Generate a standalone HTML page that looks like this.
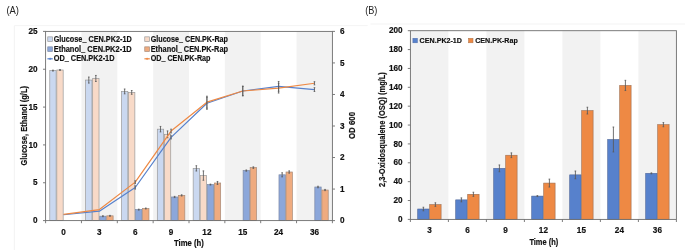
<!DOCTYPE html>
<html><head><meta charset="utf-8"><style>
html,body{margin:0;padding:0;background:#fff;}
body{width:685px;height:250px;overflow:hidden;}
svg{display:block;} text{-webkit-font-smoothing:antialiased;} text[font-weight=bold]{stroke:#111;stroke-width:0.18px;}
</style></head><body>
<svg style="will-change:transform" width="685" height="250" viewBox="0 0 685 250" font-family="Liberation Sans, sans-serif">
<path d="M14.4 250V25.6H367.6" stroke="#f0f0f0" stroke-width="0.8" fill="none"/>
<path d="M370.6 24H685" stroke="#f0f0f0" stroke-width="0.8" fill="none"/>
<rect x="81.45" y="31.40" width="35.85" height="189.20" fill="#f2f2f2"/>
<rect x="153.15" y="31.40" width="35.85" height="189.20" fill="#f2f2f2"/>
<rect x="224.85" y="31.40" width="35.85" height="189.20" fill="#f2f2f2"/>
<rect x="296.55" y="31.40" width="35.85" height="189.20" fill="#f2f2f2"/>
<rect x="49.77" y="70.60" width="6.35" height="150.00" fill="#cad8f0" stroke="#9a9a9a" stroke-width="0.7"/>
<rect x="56.82" y="70.00" width="6.35" height="150.60" fill="#f8dac8" stroke="#9a9a9a" stroke-width="0.7"/>
<rect x="85.62" y="80.06" width="6.35" height="140.54" fill="#cad8f0" stroke="#9a9a9a" stroke-width="0.7"/>
<rect x="92.67" y="78.47" width="6.35" height="142.13" fill="#f8dac8" stroke="#9a9a9a" stroke-width="0.7"/>
<rect x="99.72" y="216.21" width="6.35" height="4.39" fill="#8ca7da" stroke="#7d8aa6" stroke-width="0.7"/>
<rect x="106.77" y="215.83" width="6.35" height="4.77" fill="#efab7f" stroke="#a88a78" stroke-width="0.7"/>
<rect x="121.47" y="91.41" width="6.35" height="129.19" fill="#cad8f0" stroke="#9a9a9a" stroke-width="0.7"/>
<rect x="128.52" y="92.40" width="6.35" height="128.20" fill="#f8dac8" stroke="#9a9a9a" stroke-width="0.7"/>
<rect x="135.57" y="209.63" width="6.35" height="10.97" fill="#8ca7da" stroke="#7d8aa6" stroke-width="0.7"/>
<rect x="142.62" y="208.49" width="6.35" height="12.11" fill="#efab7f" stroke="#a88a78" stroke-width="0.7"/>
<rect x="157.32" y="129.18" width="6.35" height="91.42" fill="#cad8f0" stroke="#9a9a9a" stroke-width="0.7"/>
<rect x="164.37" y="134.32" width="6.35" height="86.28" fill="#f8dac8" stroke="#9a9a9a" stroke-width="0.7"/>
<rect x="171.42" y="196.99" width="6.35" height="23.61" fill="#8ca7da" stroke="#7d8aa6" stroke-width="0.7"/>
<rect x="178.47" y="195.40" width="6.35" height="25.20" fill="#efab7f" stroke="#a88a78" stroke-width="0.7"/>
<rect x="193.17" y="168.38" width="6.35" height="52.22" fill="#cad8f0" stroke="#9a9a9a" stroke-width="0.7"/>
<rect x="200.22" y="175.57" width="6.35" height="45.03" fill="#f8dac8" stroke="#9a9a9a" stroke-width="0.7"/>
<rect x="207.27" y="184.58" width="6.35" height="36.02" fill="#8ca7da" stroke="#7d8aa6" stroke-width="0.7"/>
<rect x="214.32" y="182.99" width="6.35" height="37.61" fill="#efab7f" stroke="#a88a78" stroke-width="0.7"/>
<rect x="243.12" y="170.58" width="6.35" height="50.02" fill="#8ca7da" stroke="#7d8aa6" stroke-width="0.7"/>
<rect x="250.17" y="167.62" width="6.35" height="52.98" fill="#efab7f" stroke="#a88a78" stroke-width="0.7"/>
<rect x="278.98" y="174.81" width="6.35" height="45.79" fill="#8ca7da" stroke="#7d8aa6" stroke-width="0.7"/>
<rect x="286.02" y="172.01" width="6.35" height="48.59" fill="#efab7f" stroke="#a88a78" stroke-width="0.7"/>
<rect x="314.82" y="187.00" width="6.35" height="33.60" fill="#8ca7da" stroke="#7d8aa6" stroke-width="0.7"/>
<rect x="321.87" y="190.03" width="6.35" height="30.57" fill="#efab7f" stroke="#a88a78" stroke-width="0.7"/>
<path d="M52.95 70.15V71.06M52.15 70.15h1.60M52.15 71.06h1.60" stroke="#5a5a5a" stroke-width="0.85" fill="none"/>
<path d="M60.00 69.54V70.45M59.20 69.54h1.60M59.20 70.45h1.60" stroke="#5a5a5a" stroke-width="0.85" fill="none"/>
<path d="M88.80 77.04V83.09M88.00 77.04h1.60M88.00 83.09h1.60" stroke="#5a5a5a" stroke-width="0.85" fill="none"/>
<path d="M95.85 75.45V81.50M95.05 75.45h1.60M95.05 81.50h1.60" stroke="#5a5a5a" stroke-width="0.85" fill="none"/>
<path d="M102.90 215.76V216.66M102.10 215.76h1.60M102.10 216.66h1.60" stroke="#5a5a5a" stroke-width="0.85" fill="none"/>
<path d="M109.95 215.38V216.29M109.15 215.38h1.60M109.15 216.29h1.60" stroke="#5a5a5a" stroke-width="0.85" fill="none"/>
<path d="M124.65 88.99V93.84M123.85 88.99h1.60M123.85 93.84h1.60" stroke="#5a5a5a" stroke-width="0.85" fill="none"/>
<path d="M131.70 90.51V94.29M130.90 90.51h1.60M130.90 94.29h1.60" stroke="#5a5a5a" stroke-width="0.85" fill="none"/>
<path d="M138.75 209.17V210.08M137.95 209.17h1.60M137.95 210.08h1.60" stroke="#5a5a5a" stroke-width="0.85" fill="none"/>
<path d="M145.80 208.04V208.95M145.00 208.04h1.60M145.00 208.95h1.60" stroke="#5a5a5a" stroke-width="0.85" fill="none"/>
<path d="M160.50 126.45V131.90M159.70 126.45h1.60M159.70 131.90h1.60" stroke="#5a5a5a" stroke-width="0.85" fill="none"/>
<path d="M167.55 130.92V137.73M166.75 130.92h1.60M166.75 137.73h1.60" stroke="#5a5a5a" stroke-width="0.85" fill="none"/>
<path d="M174.60 196.38V197.59M173.80 196.38h1.60M173.80 197.59h1.60" stroke="#5a5a5a" stroke-width="0.85" fill="none"/>
<path d="M181.65 194.79V196.00M180.85 194.79h1.60M180.85 196.00h1.60" stroke="#5a5a5a" stroke-width="0.85" fill="none"/>
<path d="M196.35 165.73V171.03M195.55 165.73h1.60M195.55 171.03h1.60" stroke="#5a5a5a" stroke-width="0.85" fill="none"/>
<path d="M203.40 170.88V180.26M202.60 170.88h1.60M202.60 180.26h1.60" stroke="#5a5a5a" stroke-width="0.85" fill="none"/>
<path d="M210.45 184.12V185.03M209.65 184.12h1.60M209.65 185.03h1.60" stroke="#5a5a5a" stroke-width="0.85" fill="none"/>
<path d="M217.50 181.47V184.50M216.70 181.47h1.60M216.70 184.50h1.60" stroke="#5a5a5a" stroke-width="0.85" fill="none"/>
<path d="M246.30 169.97V171.18M245.50 169.97h1.60M245.50 171.18h1.60" stroke="#5a5a5a" stroke-width="0.85" fill="none"/>
<path d="M253.35 166.87V168.38M252.55 166.87h1.60M252.55 168.38h1.60" stroke="#5a5a5a" stroke-width="0.85" fill="none"/>
<path d="M282.15 172.77V176.86M281.35 172.77h1.60M281.35 176.86h1.60" stroke="#5a5a5a" stroke-width="0.85" fill="none"/>
<path d="M289.20 170.88V173.15M288.40 170.88h1.60M288.40 173.15h1.60" stroke="#5a5a5a" stroke-width="0.85" fill="none"/>
<path d="M318.00 186.24V187.75M317.20 186.24h1.60M317.20 187.75h1.60" stroke="#5a5a5a" stroke-width="0.85" fill="none"/>
<path d="M325.05 189.42V190.63M324.25 189.42h1.60M324.25 190.63h1.60" stroke="#5a5a5a" stroke-width="0.85" fill="none"/>
<polyline points="63.52,214.77 99.38,211.14 135.22,187.49 171.07,137.35 206.92,103.30 242.77,91.00 278.62,86.36 314.47,89.58" fill="none" stroke="#5781cc" stroke-width="1.2" stroke-linejoin="round"/>
<polyline points="63.52,214.29 99.38,209.56 135.22,182.13 171.07,131.05 206.92,102.19 242.77,91.00 278.62,88.16 314.47,83.27" fill="none" stroke="#ee8944" stroke-width="1.2" stroke-linejoin="round"/>
<path d="M135.22 185.91V189.07M134.42 185.91h1.60M134.42 189.07h1.60" stroke="#5a5a5a" stroke-width="0.85" fill="none"/>
<path d="M171.07 135.78V138.93M170.27 135.78h1.60M170.27 138.93h1.60" stroke="#5a5a5a" stroke-width="0.85" fill="none"/>
<path d="M206.92 97.30V109.29M206.12 97.30h1.60M206.12 109.29h1.60" stroke="#5a5a5a" stroke-width="0.85" fill="none"/>
<path d="M242.77 86.27V95.73M241.97 86.27h1.60M241.97 95.73h1.60" stroke="#5a5a5a" stroke-width="0.85" fill="none"/>
<path d="M278.62 81.47V91.25M277.82 81.47h1.60M277.82 91.25h1.60" stroke="#5a5a5a" stroke-width="0.85" fill="none"/>
<path d="M314.47 87.69V91.47M313.67 87.69h1.60M313.67 91.47h1.60" stroke="#5a5a5a" stroke-width="0.85" fill="none"/>
<path d="M135.22 180.87V183.39M134.42 180.87h1.60M134.42 183.39h1.60" stroke="#5a5a5a" stroke-width="0.85" fill="none"/>
<path d="M171.07 129.15V132.94M170.27 129.15h1.60M170.27 132.94h1.60" stroke="#5a5a5a" stroke-width="0.85" fill="none"/>
<path d="M206.92 96.20V108.18M206.12 96.20h1.60M206.12 108.18h1.60" stroke="#5a5a5a" stroke-width="0.85" fill="none"/>
<path d="M242.77 86.27V95.73M241.97 86.27h1.60M241.97 95.73h1.60" stroke="#5a5a5a" stroke-width="0.85" fill="none"/>
<path d="M278.62 83.27V93.05M277.82 83.27h1.60M277.82 93.05h1.60" stroke="#5a5a5a" stroke-width="0.85" fill="none"/>
<path d="M314.47 81.70V84.85M313.67 81.70h1.60M313.67 84.85h1.60" stroke="#5a5a5a" stroke-width="0.85" fill="none"/>
<rect x="45.60" y="31.40" width="286.80" height="189.20" fill="none" stroke="#6e6e6e" stroke-width="0.9"/>
<path d="M43.00 220.60H45.6" stroke="#6e6e6e" stroke-width="0.9"/>
<text x="37.60" y="223.20" text-anchor="end" font-size="8.6" font-weight="bold" fill="#111" textLength="4.55" lengthAdjust="spacingAndGlyphs">0</text>
<path d="M43.00 182.76H45.6" stroke="#6e6e6e" stroke-width="0.9"/>
<text x="37.60" y="185.36" text-anchor="end" font-size="8.6" font-weight="bold" fill="#111" textLength="4.55" lengthAdjust="spacingAndGlyphs">5</text>
<path d="M43.00 144.92H45.6" stroke="#6e6e6e" stroke-width="0.9"/>
<text x="37.60" y="147.52" text-anchor="end" font-size="8.6" font-weight="bold" fill="#111" textLength="9.10" lengthAdjust="spacingAndGlyphs">10</text>
<path d="M43.00 107.08H45.6" stroke="#6e6e6e" stroke-width="0.9"/>
<text x="37.60" y="109.68" text-anchor="end" font-size="8.6" font-weight="bold" fill="#111" textLength="9.10" lengthAdjust="spacingAndGlyphs">15</text>
<path d="M43.00 69.24H45.6" stroke="#6e6e6e" stroke-width="0.9"/>
<text x="37.60" y="71.84" text-anchor="end" font-size="8.6" font-weight="bold" fill="#111" textLength="9.10" lengthAdjust="spacingAndGlyphs">20</text>
<path d="M43.00 31.40H45.6" stroke="#6e6e6e" stroke-width="0.9"/>
<text x="37.60" y="34.00" text-anchor="end" font-size="8.6" font-weight="bold" fill="#111" textLength="9.10" lengthAdjust="spacingAndGlyphs">25</text>
<path d="M332.4 220.60H335.00" stroke="#6e6e6e" stroke-width="0.9"/>
<text x="340.10" y="223.20" text-anchor="start" font-size="8.6" font-weight="bold" fill="#111" textLength="4.55" lengthAdjust="spacingAndGlyphs">0</text>
<path d="M332.4 189.07H335.00" stroke="#6e6e6e" stroke-width="0.9"/>
<text x="340.10" y="191.67" text-anchor="start" font-size="8.6" font-weight="bold" fill="#111" textLength="4.55" lengthAdjust="spacingAndGlyphs">1</text>
<path d="M332.4 157.53H335.00" stroke="#6e6e6e" stroke-width="0.9"/>
<text x="340.10" y="160.13" text-anchor="start" font-size="8.6" font-weight="bold" fill="#111" textLength="4.55" lengthAdjust="spacingAndGlyphs">2</text>
<path d="M332.4 126.00H335.00" stroke="#6e6e6e" stroke-width="0.9"/>
<text x="340.10" y="128.60" text-anchor="start" font-size="8.6" font-weight="bold" fill="#111" textLength="4.55" lengthAdjust="spacingAndGlyphs">3</text>
<path d="M332.4 94.47H335.00" stroke="#6e6e6e" stroke-width="0.9"/>
<text x="340.10" y="97.07" text-anchor="start" font-size="8.6" font-weight="bold" fill="#111" textLength="4.55" lengthAdjust="spacingAndGlyphs">4</text>
<path d="M332.4 62.93H335.00" stroke="#6e6e6e" stroke-width="0.9"/>
<text x="340.10" y="65.53" text-anchor="start" font-size="8.6" font-weight="bold" fill="#111" textLength="4.55" lengthAdjust="spacingAndGlyphs">5</text>
<path d="M332.4 31.40H335.00" stroke="#6e6e6e" stroke-width="0.9"/>
<text x="340.10" y="34.00" text-anchor="start" font-size="8.6" font-weight="bold" fill="#111" textLength="4.55" lengthAdjust="spacingAndGlyphs">6</text>
<path d="M45.60 220.6V223.20" stroke="#6e6e6e" stroke-width="0.9"/>
<path d="M81.45 220.6V223.20" stroke="#6e6e6e" stroke-width="0.9"/>
<path d="M117.30 220.6V223.20" stroke="#6e6e6e" stroke-width="0.9"/>
<path d="M153.15 220.6V223.20" stroke="#6e6e6e" stroke-width="0.9"/>
<path d="M189.00 220.6V223.20" stroke="#6e6e6e" stroke-width="0.9"/>
<path d="M224.85 220.6V223.20" stroke="#6e6e6e" stroke-width="0.9"/>
<path d="M260.70 220.6V223.20" stroke="#6e6e6e" stroke-width="0.9"/>
<path d="M296.55 220.6V223.20" stroke="#6e6e6e" stroke-width="0.9"/>
<path d="M332.40 220.6V223.20" stroke="#6e6e6e" stroke-width="0.9"/>
<text x="63.52" y="234.60" text-anchor="middle" font-size="8.6" font-weight="bold" fill="#111" textLength="4.55" lengthAdjust="spacingAndGlyphs">0</text>
<text x="99.38" y="234.60" text-anchor="middle" font-size="8.6" font-weight="bold" fill="#111" textLength="4.55" lengthAdjust="spacingAndGlyphs">3</text>
<text x="135.22" y="234.60" text-anchor="middle" font-size="8.6" font-weight="bold" fill="#111" textLength="4.55" lengthAdjust="spacingAndGlyphs">6</text>
<text x="171.07" y="234.60" text-anchor="middle" font-size="8.6" font-weight="bold" fill="#111" textLength="4.55" lengthAdjust="spacingAndGlyphs">9</text>
<text x="206.92" y="234.60" text-anchor="middle" font-size="8.6" font-weight="bold" fill="#111" textLength="9.10" lengthAdjust="spacingAndGlyphs">12</text>
<text x="242.77" y="234.60" text-anchor="middle" font-size="8.6" font-weight="bold" fill="#111" textLength="9.10" lengthAdjust="spacingAndGlyphs">15</text>
<text x="278.62" y="234.60" text-anchor="middle" font-size="8.6" font-weight="bold" fill="#111" textLength="9.10" lengthAdjust="spacingAndGlyphs">24</text>
<text x="314.47" y="234.60" text-anchor="middle" font-size="8.6" font-weight="bold" fill="#111" textLength="9.10" lengthAdjust="spacingAndGlyphs">36</text>
<text x="188.9" y="246.0" text-anchor="middle" font-size="8.4" font-weight="bold" fill="#111" textLength="29.8" lengthAdjust="spacingAndGlyphs">Time (h)</text>
<text transform="translate(26.8 125.8) rotate(-90)" text-anchor="middle" font-size="8.6" font-weight="bold" fill="#111" textLength="79.6" lengthAdjust="spacingAndGlyphs">Glucose, Ethanol (g/L)</text>
<text transform="translate(354.6 125.5) rotate(-90)" text-anchor="middle" font-size="8.4" font-weight="bold" fill="#111" textLength="27" lengthAdjust="spacingAndGlyphs">OD 600</text>
<text x="6.4" y="13.8" font-size="10.2" fill="#222" textLength="12.6" lengthAdjust="spacingAndGlyphs">(A)</text>
<rect x="47.75" y="36.85" width="4.6" height="4.6" fill="#cad8f0" stroke="#9a9a9a" stroke-width="0.7"/>
<text x="53.70" y="41.50" font-size="8.3" font-weight="bold" fill="#111" textLength="78" lengthAdjust="spacingAndGlyphs">Glucose_ CEN.PK2-1D</text>
<rect x="47.75" y="46.85" width="4.6" height="4.6" fill="#8ca7da" stroke="#7d8aa6" stroke-width="0.7"/>
<text x="53.70" y="51.50" font-size="8.3" font-weight="bold" fill="#111" textLength="78" lengthAdjust="spacingAndGlyphs">Ethanol_ CEN.PK2-1D</text>
<path d="M47.40 58.80h5.4" stroke="#5781cc" stroke-width="1.2"/><circle cx="50.10" cy="58.80" r="0.8" fill="#5781cc" stroke="#5781cc" stroke-width="0.5"/>
<text x="53.70" y="61.20" font-size="8.3" font-weight="bold" fill="#111" textLength="60.8" lengthAdjust="spacingAndGlyphs">OD_ CEN.PK2-1D</text>
<rect x="144.75" y="36.85" width="4.6" height="4.6" fill="#f8dac8" stroke="#9a9a9a" stroke-width="0.7"/>
<text x="150.70" y="41.50" font-size="8.3" font-weight="bold" fill="#111" textLength="77.3" lengthAdjust="spacingAndGlyphs">Glucose_ CEN.PK-Rap</text>
<rect x="144.75" y="46.85" width="4.6" height="4.6" fill="#efab7f" stroke="#a88a78" stroke-width="0.7"/>
<text x="150.70" y="51.50" font-size="8.3" font-weight="bold" fill="#111" textLength="77.3" lengthAdjust="spacingAndGlyphs">Ethanol_ CEN.PK-Rap</text>
<path d="M144.40 58.80h5.4" stroke="#ee8944" stroke-width="1.2"/><circle cx="147.10" cy="58.80" r="0.8" fill="#ee8944" stroke="#ee8944" stroke-width="0.5"/>
<text x="150.70" y="61.20" font-size="8.3" font-weight="bold" fill="#111" textLength="59.8" lengthAdjust="spacingAndGlyphs">OD_ CEN.PK-Rap</text>
<rect x="410.40" y="30.70" width="38.00" height="188.70" fill="#f2f2f2"/>
<rect x="486.40" y="30.70" width="38.00" height="188.70" fill="#f2f2f2"/>
<rect x="562.40" y="30.70" width="38.00" height="188.70" fill="#f2f2f2"/>
<rect x="638.40" y="30.70" width="38.00" height="188.70" fill="#f2f2f2"/>
<rect x="417.70" y="209.02" width="11.40" height="10.38" fill="#5781cc" stroke="#4d6599" stroke-width="0.6"/>
<rect x="429.70" y="204.59" width="11.40" height="14.81" fill="#ee8944" stroke="#9d6e50" stroke-width="0.6"/>
<rect x="455.70" y="199.87" width="11.40" height="19.53" fill="#5781cc" stroke="#4d6599" stroke-width="0.6"/>
<rect x="467.70" y="194.30" width="11.40" height="25.10" fill="#ee8944" stroke="#9d6e50" stroke-width="0.6"/>
<rect x="493.70" y="168.36" width="11.40" height="51.04" fill="#5781cc" stroke="#4d6599" stroke-width="0.6"/>
<rect x="505.70" y="155.24" width="11.40" height="64.16" fill="#ee8944" stroke="#9d6e50" stroke-width="0.6"/>
<rect x="531.70" y="196.10" width="11.40" height="23.30" fill="#5781cc" stroke="#4d6599" stroke-width="0.6"/>
<rect x="543.70" y="183.08" width="11.40" height="36.32" fill="#ee8944" stroke="#9d6e50" stroke-width="0.6"/>
<rect x="569.70" y="174.87" width="11.40" height="44.53" fill="#5781cc" stroke="#4d6599" stroke-width="0.6"/>
<rect x="581.70" y="110.61" width="11.40" height="108.79" fill="#ee8944" stroke="#9d6e50" stroke-width="0.6"/>
<rect x="607.70" y="139.49" width="11.40" height="79.91" fill="#5781cc" stroke="#4d6599" stroke-width="0.6"/>
<rect x="619.70" y="85.42" width="11.40" height="133.98" fill="#ee8944" stroke="#9d6e50" stroke-width="0.6"/>
<rect x="645.70" y="173.36" width="11.40" height="46.04" fill="#5781cc" stroke="#4d6599" stroke-width="0.6"/>
<rect x="657.70" y="124.67" width="11.40" height="94.73" fill="#ee8944" stroke="#9d6e50" stroke-width="0.6"/>
<path d="M423.40 207.23V210.81M422.60 207.23h1.60M422.60 210.81h1.60" stroke="#5a5a5a" stroke-width="0.85" fill="none"/>
<path d="M435.40 202.79V206.38M434.60 202.79h1.60M434.60 206.38h1.60" stroke="#5a5a5a" stroke-width="0.85" fill="none"/>
<path d="M461.40 197.89V201.85M460.60 197.89h1.60M460.60 201.85h1.60" stroke="#5a5a5a" stroke-width="0.85" fill="none"/>
<path d="M473.40 192.23V196.38M472.60 192.23h1.60M472.60 196.38h1.60" stroke="#5a5a5a" stroke-width="0.85" fill="none"/>
<path d="M499.40 164.96V171.75M498.60 164.96h1.60M498.60 171.75h1.60" stroke="#5a5a5a" stroke-width="0.85" fill="none"/>
<path d="M511.40 152.88V157.60M510.60 152.88h1.60M510.60 157.60h1.60" stroke="#5a5a5a" stroke-width="0.85" fill="none"/>
<path d="M537.40 195.62V196.57M536.60 195.62h1.60M536.60 196.57h1.60" stroke="#5a5a5a" stroke-width="0.85" fill="none"/>
<path d="M549.40 179.11V187.04M548.60 179.11h1.60M548.60 187.04h1.60" stroke="#5a5a5a" stroke-width="0.85" fill="none"/>
<path d="M575.40 171.00V178.74M574.60 171.00h1.60M574.60 178.74h1.60" stroke="#5a5a5a" stroke-width="0.85" fill="none"/>
<path d="M587.40 107.22V114.01M586.60 107.22h1.60M586.60 114.01h1.60" stroke="#5a5a5a" stroke-width="0.85" fill="none"/>
<path d="M613.40 127.03V151.94M612.60 127.03h1.60M612.60 151.94h1.60" stroke="#5a5a5a" stroke-width="0.85" fill="none"/>
<path d="M625.40 80.33V90.52M624.60 80.33h1.60M624.60 90.52h1.60" stroke="#5a5a5a" stroke-width="0.85" fill="none"/>
<path d="M651.40 172.89V173.83M650.60 172.89h1.60M650.60 173.83h1.60" stroke="#5a5a5a" stroke-width="0.85" fill="none"/>
<path d="M663.40 122.60V126.75M662.60 122.60h1.60M662.60 126.75h1.60" stroke="#5a5a5a" stroke-width="0.85" fill="none"/>
<rect x="410.40" y="30.70" width="266.00" height="188.70" fill="none" stroke="#6e6e6e" stroke-width="0.9"/>
<path d="M407.80 219.40H410.4" stroke="#6e6e6e" stroke-width="0.9"/>
<text x="402.60" y="222.00" text-anchor="end" font-size="8.6" font-weight="bold" fill="#111" textLength="4.55" lengthAdjust="spacingAndGlyphs">0</text>
<path d="M407.80 200.53H410.4" stroke="#6e6e6e" stroke-width="0.9"/>
<text x="402.60" y="203.13" text-anchor="end" font-size="8.6" font-weight="bold" fill="#111" textLength="9.10" lengthAdjust="spacingAndGlyphs">20</text>
<path d="M407.80 181.66H410.4" stroke="#6e6e6e" stroke-width="0.9"/>
<text x="402.60" y="184.26" text-anchor="end" font-size="8.6" font-weight="bold" fill="#111" textLength="9.10" lengthAdjust="spacingAndGlyphs">40</text>
<path d="M407.80 162.79H410.4" stroke="#6e6e6e" stroke-width="0.9"/>
<text x="402.60" y="165.39" text-anchor="end" font-size="8.6" font-weight="bold" fill="#111" textLength="9.10" lengthAdjust="spacingAndGlyphs">60</text>
<path d="M407.80 143.92H410.4" stroke="#6e6e6e" stroke-width="0.9"/>
<text x="402.60" y="146.52" text-anchor="end" font-size="8.6" font-weight="bold" fill="#111" textLength="9.10" lengthAdjust="spacingAndGlyphs">80</text>
<path d="M407.80 125.05H410.4" stroke="#6e6e6e" stroke-width="0.9"/>
<text x="402.60" y="127.65" text-anchor="end" font-size="8.6" font-weight="bold" fill="#111" textLength="13.65" lengthAdjust="spacingAndGlyphs">100</text>
<path d="M407.80 106.18H410.4" stroke="#6e6e6e" stroke-width="0.9"/>
<text x="402.60" y="108.78" text-anchor="end" font-size="8.6" font-weight="bold" fill="#111" textLength="13.65" lengthAdjust="spacingAndGlyphs">120</text>
<path d="M407.80 87.31H410.4" stroke="#6e6e6e" stroke-width="0.9"/>
<text x="402.60" y="89.91" text-anchor="end" font-size="8.6" font-weight="bold" fill="#111" textLength="13.65" lengthAdjust="spacingAndGlyphs">140</text>
<path d="M407.80 68.44H410.4" stroke="#6e6e6e" stroke-width="0.9"/>
<text x="402.60" y="71.04" text-anchor="end" font-size="8.6" font-weight="bold" fill="#111" textLength="13.65" lengthAdjust="spacingAndGlyphs">160</text>
<path d="M407.80 49.57H410.4" stroke="#6e6e6e" stroke-width="0.9"/>
<text x="402.60" y="52.17" text-anchor="end" font-size="8.6" font-weight="bold" fill="#111" textLength="13.65" lengthAdjust="spacingAndGlyphs">180</text>
<path d="M407.80 30.70H410.4" stroke="#6e6e6e" stroke-width="0.9"/>
<text x="402.60" y="33.30" text-anchor="end" font-size="8.6" font-weight="bold" fill="#111" textLength="13.65" lengthAdjust="spacingAndGlyphs">200</text>
<path d="M410.40 219.4V222.00" stroke="#6e6e6e" stroke-width="0.9"/>
<path d="M448.40 219.4V222.00" stroke="#6e6e6e" stroke-width="0.9"/>
<path d="M486.40 219.4V222.00" stroke="#6e6e6e" stroke-width="0.9"/>
<path d="M524.40 219.4V222.00" stroke="#6e6e6e" stroke-width="0.9"/>
<path d="M562.40 219.4V222.00" stroke="#6e6e6e" stroke-width="0.9"/>
<path d="M600.40 219.4V222.00" stroke="#6e6e6e" stroke-width="0.9"/>
<path d="M638.40 219.4V222.00" stroke="#6e6e6e" stroke-width="0.9"/>
<path d="M676.40 219.4V222.00" stroke="#6e6e6e" stroke-width="0.9"/>
<text x="429.40" y="233.20" text-anchor="middle" font-size="8.6" font-weight="bold" fill="#111" textLength="4.55" lengthAdjust="spacingAndGlyphs">3</text>
<text x="467.40" y="233.20" text-anchor="middle" font-size="8.6" font-weight="bold" fill="#111" textLength="4.55" lengthAdjust="spacingAndGlyphs">6</text>
<text x="505.40" y="233.20" text-anchor="middle" font-size="8.6" font-weight="bold" fill="#111" textLength="4.55" lengthAdjust="spacingAndGlyphs">9</text>
<text x="543.40" y="233.20" text-anchor="middle" font-size="8.6" font-weight="bold" fill="#111" textLength="9.10" lengthAdjust="spacingAndGlyphs">12</text>
<text x="581.40" y="233.20" text-anchor="middle" font-size="8.6" font-weight="bold" fill="#111" textLength="9.10" lengthAdjust="spacingAndGlyphs">15</text>
<text x="619.40" y="233.20" text-anchor="middle" font-size="8.6" font-weight="bold" fill="#111" textLength="9.10" lengthAdjust="spacingAndGlyphs">24</text>
<text x="657.40" y="233.20" text-anchor="middle" font-size="8.6" font-weight="bold" fill="#111" textLength="9.10" lengthAdjust="spacingAndGlyphs">36</text>
<text x="543.8" y="244.8" text-anchor="middle" font-size="8.4" font-weight="bold" fill="#111" textLength="28.8" lengthAdjust="spacingAndGlyphs">Time (h)</text>
<text transform="translate(385.2 129.6) rotate(-90)" text-anchor="middle" font-size="8.4" font-weight="bold" fill="#111" textLength="114.8" lengthAdjust="spacingAndGlyphs">2,3-Oxidosqualene (OSQ) (mg/L)</text>
<text x="365.2" y="14.2" font-size="10.2" fill="#222" textLength="12.2" lengthAdjust="spacingAndGlyphs">(B)</text>
<rect x="412.9" y="38.3" width="4.5" height="4.5" fill="#5781cc" stroke="#4a6aa8" stroke-width="0.5"/>
<text x="419.6" y="43.0" font-size="7.9" font-weight="bold" fill="#111" textLength="42.4" lengthAdjust="spacingAndGlyphs">CEN.PK2-1D</text>
<text x="475.2" y="43.0" font-size="7.9" font-weight="bold" fill="#111" textLength="42.6" lengthAdjust="spacingAndGlyphs">CEN.PK-Rap</text>
<rect x="468.5" y="38.3" width="4.5" height="4.5" fill="#ee8944" stroke="#a8724a" stroke-width="0.5"/>
</svg>
</body></html>
